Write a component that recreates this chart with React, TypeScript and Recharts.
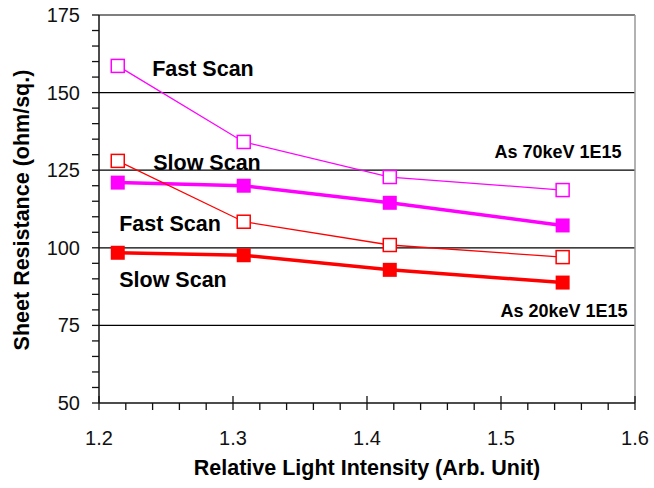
import React from "react";
import {
  LineChart,
  Line,
  XAxis,
  YAxis,
  ReferenceLine,
  ReferenceDot,
  Label,
} from "recharts";

const intensity = [1.214, 1.308, 1.417, 1.546];
const as70Fast = [158.6, 134.1, 122.8, 118.6];
const as70Slow = [121.0, 120.0, 114.5, 107.2];
const as20Fast = [128.0, 108.4, 100.9, 97.0];
const as20Slow = [98.4, 97.6, 92.9, 88.8];

const xMajor = [1.2, 1.3, 1.4, 1.5, 1.6];
const xTicks = [
  1.2, 1.22, 1.24, 1.26, 1.28, 1.3, 1.32, 1.34, 1.36, 1.38, 1.4, 1.42, 1.44,
  1.46, 1.48, 1.5, 1.52, 1.54, 1.56, 1.58, 1.6,
];
const yMajor = [50, 75, 100, 125, 150, 175];
const yTicks = [
  50, 55, 60, 65, 70, 75, 80, 85, 90, 95, 100, 105, 110, 115, 120, 125, 130,
  135, 140, 145, 150, 155, 160, 165, 170, 175,
];
const gridValues = [75, 100, 125, 150];

const notes = [
  { text: "Fast Scan", x: 1.2776, y: 157.6, size: 21.5 },
  { text: "Slow Scan", x: 1.2806, y: 127.3, size: 21.5 },
  { text: "Fast Scan", x: 1.253, y: 107.7, size: 21.5 },
  { text: "Slow Scan", x: 1.2552, y: 89.6, size: 21.5 },
  { text: "As 70keV 1E15", x: 1.5425, y: 130.9, size: 18 },
  { text: "As 20keV 1E15", x: 1.547, y: 79.6, size: 18 },
];

const FONT = "'Liberation Sans', Arial, Helvetica, sans-serif";
const MAGENTA = "#ff00ff";
const RED = "#ff0000";

const data = intensity.map((x, i) => ({
  x,
  as70Fast: as70Fast[i],
  as70Slow: as70Slow[i],
  as20Fast: as20Fast[i],
  as20Slow: as20Slow[i],
}));

const isMajor = (list: number[], v: number) =>
  list.some((m) => Math.abs(m - v) < 1e-6);

const XTick = (props: any) => {
  const { x, y, payload } = props;
  const major = isMajor(xMajor, payload.value);
  return (
    <g>
      <line
        x1={x}
        x2={x}
        y1={major ? y - 7 : y}
        y2={y + 7}
        stroke="#111"
        strokeWidth={1.3}
      />
      {major && (
        <text
          x={x}
          y={y + 42}
          textAnchor="middle"
          fontSize={20}
          fontFamily={FONT}
          fill="#111"
        >
          {payload.value.toFixed(1)}
        </text>
      )}
    </g>
  );
};

const YTick = (props: any) => {
  const { x, y, payload } = props;
  const major = isMajor(yMajor, payload.value);
  return (
    <g>
      <line x1={x - 7} x2={x} y1={y} y2={y} stroke="#111" strokeWidth={1.3} />
      {major && (
        <text
          x={x - 19}
          y={y}
          textAnchor="end"
          dominantBaseline="central"
          fontSize={20}
          fontFamily={FONT}
          fill="#111"
        >
          {payload.value}
        </text>
      )}
    </g>
  );
};

const square = (color: string, filled: boolean, size: number) => (p: any) => {
  const { cx, cy, index } = p;
  return (
    <rect
      key={`sq-${color}-${filled}-${index}`}
      x={cx - size / 2}
      y={cy - size / 2}
      width={size}
      height={size}
      fill={filled ? color : "#fff"}
      stroke={color}
      strokeWidth={filled ? 0 : 1.5}
    />
  );
};

const noteLabel = (text: string, size: number) => ({
  content: (p: any) => {
    const vb = p.viewBox;
    return (
      <text
        x={vb.x + vb.width / 2}
        y={vb.y + vb.height / 2}
        textAnchor="middle"
        dominantBaseline="central"
        fontSize={size}
        fontWeight="bold"
        fontFamily={FONT}
        fill="#000"
      >
        {text}
      </text>
    );
  },
});

export default function App() {
  return (
    <div style={{ position: "absolute", left: 0, top: 0, background: "#fff" }}>
      <LineChart
        width={654}
        height={488}
        data={data}
        margin={{ top: 15, right: 19, left: 0, bottom: 0 }}
      >
        <XAxis
          dataKey="x"
          type="number"
          domain={[1.2, 1.6]}
          ticks={xTicks}
          interval={0}
          tick={<XTick />}
          tickLine={false}
          tickSize={0}
          tickMargin={0}
          height={85}
          axisLine={{ stroke: "#111", strokeWidth: 1.5 }}
        >
          <Label
            content={() => (
              <text
                x={367}
                y={475}
                textAnchor="middle"
                fontSize={21.5}
                fontWeight="bold"
                fontFamily={FONT}
                fill="#000"
              >
                Relative Light Intensity (Arb. Unit)
              </text>
            )}
          />
        </XAxis>
        <YAxis
          type="number"
          domain={[50, 175]}
          ticks={yTicks}
          interval={0}
          tick={<YTick />}
          tickLine={false}
          tickSize={0}
          tickMargin={0}
          width={99}
          axisLine={{ stroke: "#111", strokeWidth: 1.5 }}
        >
          <Label
            content={() => (
              <text
                x={29}
                y={210}
                transform="rotate(-90 29 210)"
                textAnchor="middle"
                fontSize={21.5}
                fontWeight="bold"
                fontFamily={FONT}
                fill="#000"
              >
                Sheet Resistance (ohm/sq.)
              </text>
            )}
          />
        </YAxis>
        {gridValues.map((v) => (
          <ReferenceLine key={v} y={v} stroke="#000" strokeWidth={1.2} />
        ))}
        <ReferenceLine y={175} stroke="#555" strokeWidth={1.5} />
        <ReferenceLine x={1.6} stroke="#999" strokeWidth={1.5} />
        <Line
          dataKey="as70Fast"
          stroke={MAGENTA}
          strokeWidth={1.3}
          dot={square(MAGENTA, false, 13)}
          isAnimationActive={false}
        />
        <Line
          dataKey="as70Slow"
          stroke={MAGENTA}
          strokeWidth={3.5}
          dot={square(MAGENTA, true, 14)}
          isAnimationActive={false}
        />
        <Line
          dataKey="as20Fast"
          stroke={RED}
          strokeWidth={1.3}
          dot={square(RED, false, 13)}
          isAnimationActive={false}
        />
        <Line
          dataKey="as20Slow"
          stroke={RED}
          strokeWidth={3.5}
          dot={square(RED, true, 14)}
          isAnimationActive={false}
        />
        {notes.map((n, i) => (
          <ReferenceDot
            key={i}
            x={n.x}
            y={n.y}
            r={0}
            fill="none"
            stroke="none"
            label={noteLabel(n.text, n.size)}
          />
        ))}
      </LineChart>
    </div>
  );
}
